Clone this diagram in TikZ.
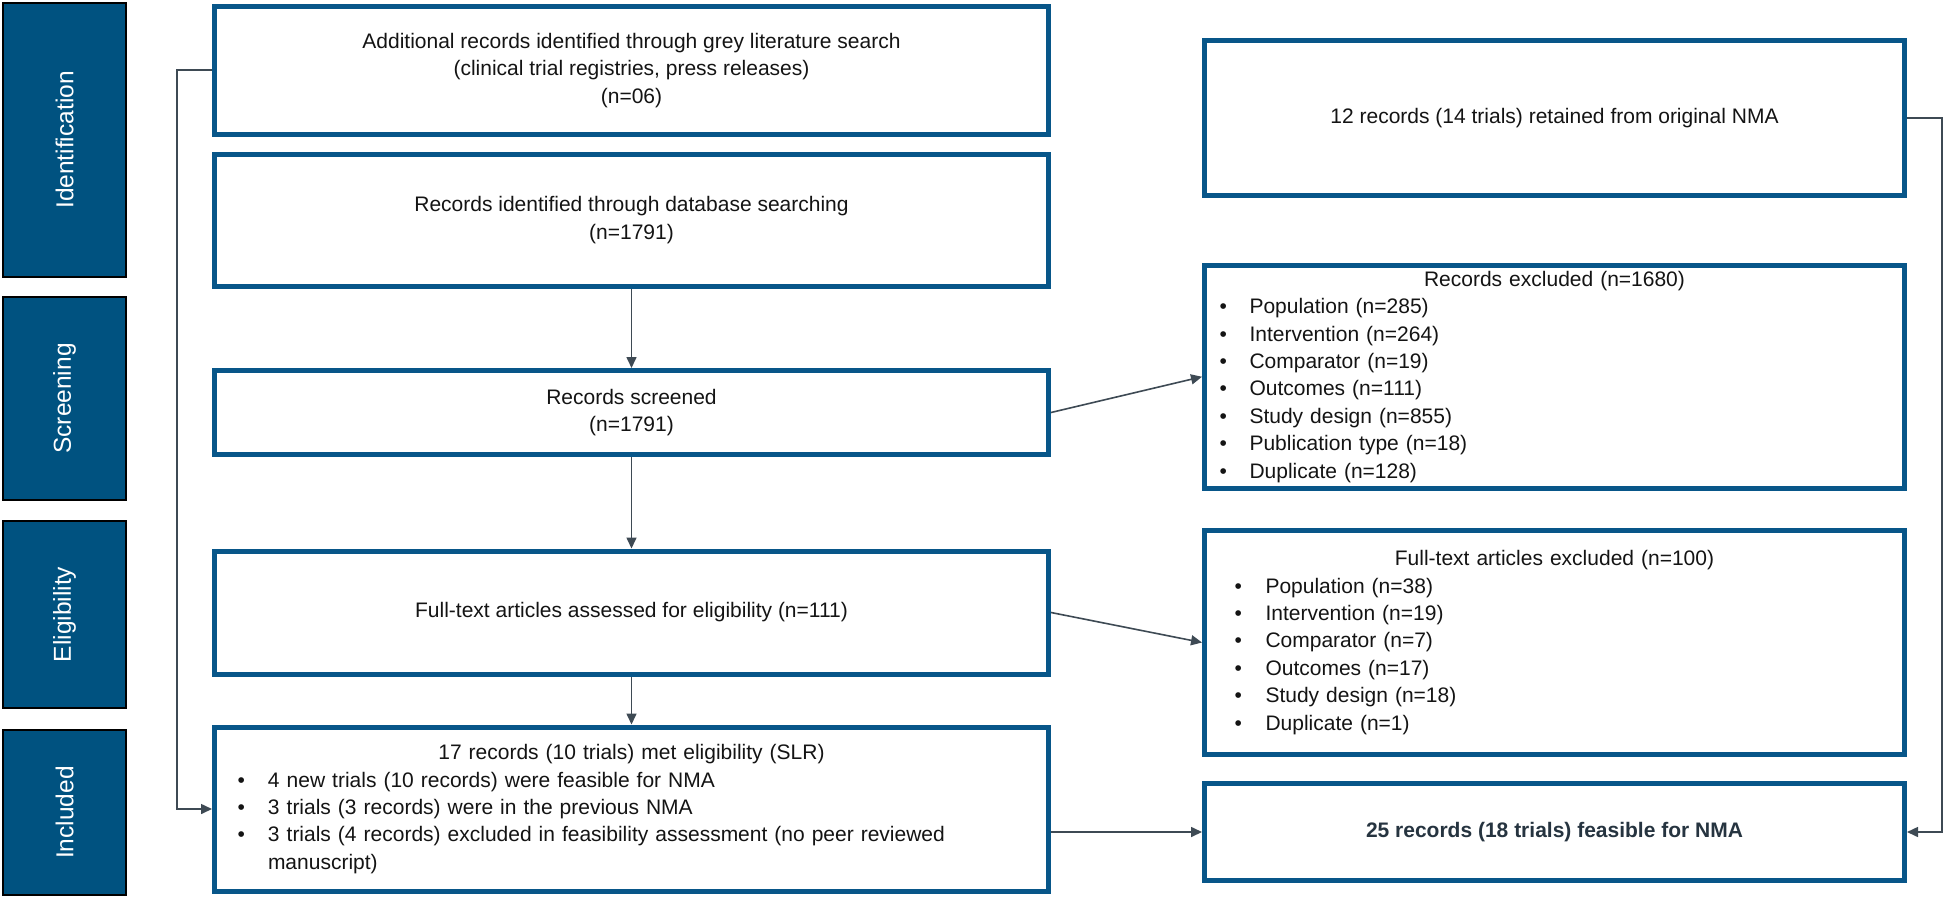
\documentclass[tikz,border=0pt]{standalone}
\usepackage{fontspec}
\setmainfont{Liberation Sans}
\usetikzlibrary{arrows.meta}
\definecolor{bbl}{RGB}{8,86,137}
\definecolor{sbl}{RGB}{0,82,128}
\definecolor{cgr}{RGB}{62,74,84}
\definecolor{txt}{RGB}{20,20,20}
\definecolor{btx}{RGB}{38,52,64}
\newcommand{\bitem}[3]{\mbox{\hspace*{#1}\makebox[#2][l]{\textbullet}#3}}
\begin{document}
\begin{tikzpicture}[x=1pt,y=-1pt,
  box/.style={draw=bbl, line width=5pt, fill=white, inner sep=0pt, outer sep=2.5pt, align=center, text=txt, font=\fontsize{21}{27.4}\selectfont},
  side/.style={draw=black, line width=1.3pt, fill=sbl, inner sep=0pt, outer sep=0pt, rotate=90, text=white, font=\fontsize{24.5}{29}\selectfont},
  conn/.style={draw=cgr, line width=1.6pt, -{Triangle[length=11pt,width=10pt]}}]
\useasboundingbox (0,0) rectangle (1946,899);

% phase sidebars
\node[side, minimum width=274pt, minimum height=123pt] (s1) at (64.5,140) {Identification};
\node[side, minimum width=203pt, minimum height=123pt] (s2) at (64.5,398.5) {Screening};
\node[side, minimum width=187pt, minimum height=123pt] (s3) at (64.5,614.5) {Eligibility};
\node[side, minimum width=165pt, minimum height=123pt] (s4) at (64.5,812.5) {Included};

% left column
\node[box, minimum width=834pt, minimum height=127.5pt] (b1) at (631.5,70.25)
  {Additional records identified through grey literature search\\(clinical trial registries, press releases)\\(n=06)};
\node[box, minimum width=834pt, minimum height=131.5pt] (b2) at (631.5,220.25)
  {Records identified through database searching\\(n=1791)};
\node[box, minimum width=834pt, minimum height=84pt] (b3) at (631.5,412.5)
  {Records screened\\(n=1791)};
\node[box, minimum width=834pt, minimum height=123pt] (b4) at (631.5,612.5)
  {Full-text articles assessed for eligibility (n=111)};
\node[box, minimum width=834pt, minimum height=164pt, text width=824pt, align=left] (b5) at (631.5,809)
  {\makebox[824pt][c]{17 records (10 trials) met eligibility (SLR)}\\
   \bitem{18pt}{30.5pt}{4 new trials (10 records) were feasible for NMA}\\
   \bitem{18pt}{30.5pt}{3 trials (3 records) were in the previous NMA}\\
   \bitem{18pt}{30.5pt}{3 trials (4 records) excluded in feasibility assessment (no peer reviewed}\\
   \mbox{\hspace*{48.5pt}manuscript)}};

% right column
\node[box, minimum width=700pt, minimum height=155pt] (r1) at (1554.5,118)
  {12 records (14 trials) retained from original NMA};
\node[box, minimum width=700pt, minimum height=222.5pt, text width=690pt, align=left] (r2) at (1554.5,376.75)
  {\makebox[690pt][c]{Records excluded (n=1680)}\\
   \bitem{10pt}{30pt}{Population (n=285)}\\
   \bitem{10pt}{30pt}{Intervention (n=264)}\\
   \bitem{10pt}{30pt}{Comparator (n=19)}\\
   \bitem{10pt}{30pt}{Outcomes (n=111)}\\
   \bitem{10pt}{30pt}{Study design (n=855)}\\
   \bitem{10pt}{30pt}{Publication type (n=18)}\\
   \bitem{10pt}{30pt}{Duplicate (n=128)}};
\node[box, minimum width=700pt, minimum height=224pt, text width=690pt, align=left] (r3) at (1554.5,642.5)
  {\makebox[690pt][c]{Full-text articles excluded (n=100)}\\
   \bitem{25pt}{31pt}{Population (n=38)}\\
   \bitem{25pt}{31pt}{Intervention (n=19)}\\
   \bitem{25pt}{31pt}{Comparator (n=7)}\\
   \bitem{25pt}{31pt}{Outcomes (n=17)}\\
   \bitem{25pt}{31pt}{Study design (n=18)}\\
   \bitem{25pt}{31pt}{Duplicate (n=1)}};
\node[box, minimum width=700pt, minimum height=97pt, text=btx] (r4) at (1554.5,832)
  {\textbf{25 records (18 trials) feasible for NMA}};

% connectors
\coordinate (lj) at (177,0);
\coordinate (rj) at (1942,0);
\draw[conn] (b2.south) -- (b3.north);
\draw[conn] (b3.south) -- (b4.north);
\draw[conn] (b4.south) -- (b5.north);
\draw[conn] (b3.east) -- (r2.west);
\draw[conn] (b4.east) -- (r3.west);
\draw[conn] (b5.east |- r4.west) -- (r4.west);
\draw[conn] (b1.west) -- (b1.west -| lj) -- (b5.west -| lj) -- (b5.west);
\draw[conn] (r1.east) -- (r1.east -| rj) -- (r4.east -| rj) -- (r4.east);
\end{tikzpicture}
\end{document}
